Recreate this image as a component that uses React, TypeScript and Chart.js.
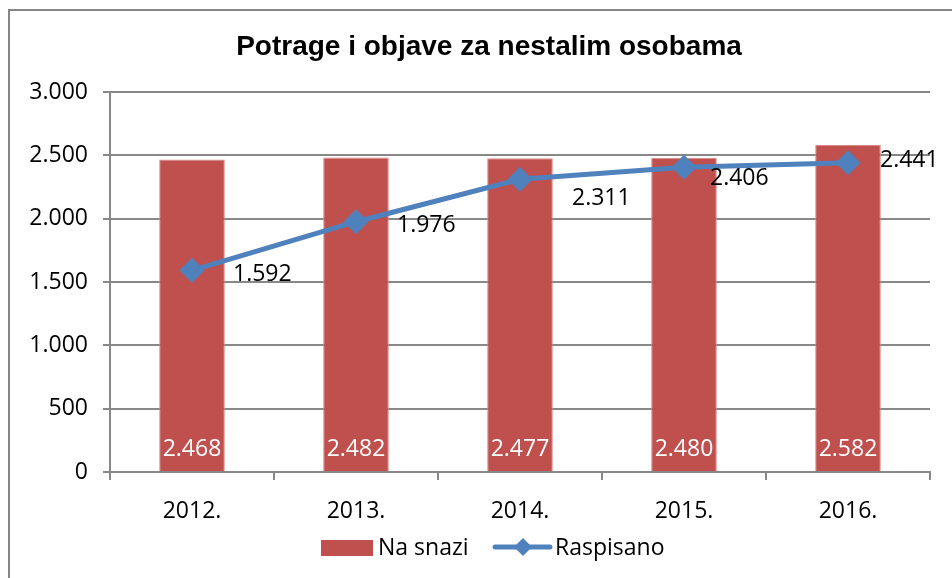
import React, { useEffect, useRef } from "react";
import { Chart, registerables } from "chart.js";

Chart.register(...registerables);

const categories = ["2012.", "2013.", "2014.", "2015.", "2016."];
const naSnazi = [2468, 2482, 2477, 2480, 2582];
const raspisano = [1592, 1976, 2311, 2406, 2441];
const yTicks = [0, 500, 1000, 1500, 2000, 2500, 3000];
const title = "Potrage i objave za nestalim osobama";
const seriesNames = ["Na snazi", "Raspisano"];
// label placement (dx to left edge, dy) relative to each line point
const lineLabelOffsets = [
  [41, 4],
  [41, 4],
  [52, 19],
  [26, 11],
  [32, -2],
];

const FONT = "'Open Sans', 'Liberation Sans', sans-serif";
const FS = 23;
const BAR_COLOR = "#C0504D";
const LINE_COLOR = "#4F81BD";
const GRID = "#888888";

const fmt = (v: number) => {
  const s = String(Math.round(v));
  return s.replace(/\B(?=(\d{3})+(?!\d))/g, ".");
};

const decorPlugin = {
  id: "decor",
  afterDatasetsDraw(chart: any) {
    const ctx = chart.ctx;
    ctx.save();
    const barMeta = chart.getDatasetMeta(0);
    ctx.font = `${FS}px ${FONT}`;
    ctx.fillStyle = "#ffffff";
    ctx.textAlign = "center";
    ctx.textBaseline = "middle";
    barMeta.data.forEach((el: any, i: number) => {
      const yBase = chart.scales.y.getPixelForValue(0);
      ctx.fillText(fmt(naSnazi[i]), el.x, yBase - 23);
    });
    const lineMeta = chart.getDatasetMeta(1);
    ctx.fillStyle = "#000000";
    ctx.textAlign = "left";
    lineMeta.data.forEach((el: any, i: number) => {
      const [dx, dy] = lineLabelOffsets[i];
      ctx.fillText(fmt(raspisano[i]), el.x + dx, el.y + dy);
    });
    ctx.restore();
  },
  afterDraw(chart: any) {
    const ctx = chart.ctx;
    ctx.save();
    ctx.strokeStyle = "#868686";
    ctx.lineWidth = 2;
    ctx.beginPath();
    ctx.moveTo(9, 600);
    ctx.lineTo(9, 10);
    ctx.lineTo(960, 10);
    ctx.stroke();
    ctx.font = `bold 28px 'Liberation Sans', Arial, sans-serif`;
    ctx.fillStyle = "#000";
    ctx.textAlign = "center";
    ctx.textBaseline = "middle";
    ctx.fillText(title, 489, 47);
    const ly = 547;
    ctx.fillStyle = BAR_COLOR;
    ctx.fillRect(321, ly - 7, 52, 16);
    ctx.font = `${FS}px ${FONT}`;
    ctx.fillStyle = "#000";
    ctx.textAlign = "left";
    ctx.fillText(seriesNames[0], 378, ly + 1);
    ctx.strokeStyle = LINE_COLOR;
    ctx.lineWidth = 5;
    ctx.lineCap = "round";
    ctx.beginPath();
    ctx.moveTo(495, ly);
    ctx.lineTo(550, ly);
    ctx.stroke();
    ctx.fillStyle = LINE_COLOR;
    ctx.beginPath();
    ctx.moveTo(523, ly - 9);
    ctx.lineTo(532, ly);
    ctx.lineTo(523, ly + 9);
    ctx.lineTo(514, ly);
    ctx.closePath();
    ctx.fill();
    ctx.fillStyle = "#000";
    ctx.fillText(seriesNames[1], 555, ly + 1);
    ctx.restore();
  },
};

export default function App() {
  const ref = useRef<HTMLCanvasElement | null>(null);
  useEffect(() => {
    document.body.style.margin = "0";
    const chart = new Chart(ref.current!, {
      type: "bar",
      data: {
        labels: categories,
        datasets: [
          {
            type: "bar",
            label: seriesNames[0],
            data: naSnazi,
            backgroundColor: BAR_COLOR,
            borderColor: "#D58A88",
            borderWidth: 1,
            categoryPercentage: 1,
            barPercentage: 0.4,
            order: 2,
          },
          {
            type: "line",
            label: seriesNames[1],
            data: raspisano,
            borderColor: LINE_COLOR,
            backgroundColor: LINE_COLOR,
            borderWidth: 5,
            pointStyle: "rectRot",
            pointRadius: 9,
            pointHoverRadius: 9,
            tension: 0,
            order: 1,
          },
        ],
      },
      options: {
        animation: false,
        responsive: false,
        maintainAspectRatio: false,
        events: [],
        layout: { padding: { left: 0, top: 92, right: 22, bottom: 46 } },
        plugins: {
          legend: { display: false },
          title: { display: false },
          tooltip: { enabled: false },
        },
        scales: {
          x: {
            offset: true,
            grid: {
              offset: true,
              drawOnChartArea: false,
              drawTicks: true,
              tickLength: 8,
              color: GRID,
              lineWidth: 2,
            },
            border: { color: GRID, width: 2 },
            ticks: {
              padding: 18,
              color: "#000",
              font: { family: FONT, size: FS },
            },
            afterFit: (s: any) => {
              s.height = 60;
            },
          },
          y: {
            min: 0,
            max: 3000,
            afterBuildTicks: (s: any) => {
              s.ticks = yTicks.map((v) => ({ value: v }));
            },
            grid: {
              color: GRID,
              lineWidth: 2,
              tickLength: 7,
            },
            border: { color: GRID, width: 2 },
            ticks: {
              padding: 15,
              color: "#000",
              font: { family: FONT, size: FS },
              callback: (v: any) => fmt(Number(v)),
            },
            afterFit: (s: any) => {
              s.width = 110;
            },
          },
        },
      },
      plugins: [decorPlugin],
    } as any);
    return () => chart.destroy();
  }, []);
  return (
    <div style={{ width: 952, height: 578 }}>
      <canvas ref={ref} width={952} height={578} style={{ display: "block" }} />
    </div>
  );
}
